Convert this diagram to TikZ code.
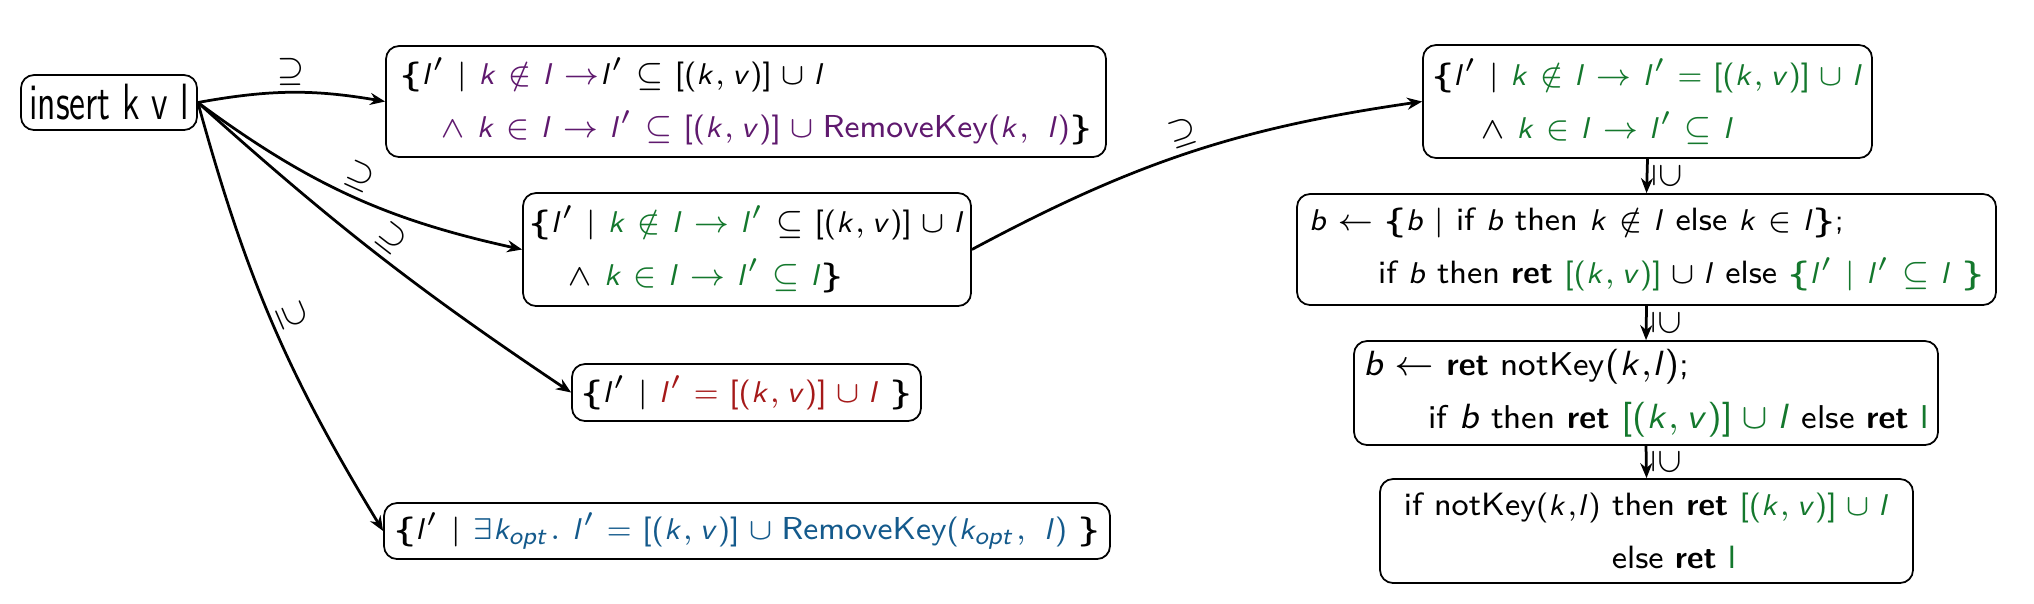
\documentclass[tikz,border=0pt]{standalone}
\usepackage{amsmath}
\usepackage{amssymb}
\usepackage{graphicx}
\usetikzlibrary{arrows.meta}
\DeclareSymbolFont{sfit}{OT1}{cmss}{m}{sl}
\DeclareSymbolFont{operators}{OT1}{cmss}{m}{n}
\SetSymbolFont{operators}{bold}{OT1}{cmss}{bx}{n}
\everymath{\fam\symsfit}
\definecolor{cpur}{RGB}{95,25,110}
\definecolor{cgrn}{RGB}{20,120,45}
\definecolor{cred}{RGB}{165,25,25}
\definecolor{cblu}{RGB}{20,90,140}
\newcommand{\lb}{\boldsymbol{\{}}
\newcommand{\rb}{\boldsymbol{\}}}
\tikzset{
  box/.style={draw, rounded corners=2.6pt, line width=0.35pt, inner sep=0pt,
    font=\sffamily\fontsize{6.35}{10.6}\selectfont},
  bigbox/.style={box, font=\sffamily\fontsize{6.6}{10.6}\selectfont},
  conn/.style={-{Stealth[length=3pt,width=2.4pt]}, line width=0.55pt},
  lab/.style={font=\fontsize{6}{6}\selectfont, sloped, above, inner sep=1.2pt},
  vlab/.style={font=\fontsize{6}{6}\selectfont, rotate=-90, anchor=south, inner sep=1pt},
}
\begin{document}
\begin{tikzpicture}[x=0.2pt,y=0.2pt]
\useasboundingbox (0,0) rectangle (2034,-603);
\node[box, minimum width=35.2pt, minimum height=11pt] (ins) at (109,-102.5)
  {\scalebox{0.7}[1]{\fontsize{10.2}{12}\selectfont insert k v l}};
\node[box, minimum width=144pt, minimum height=22.2pt, align=left] (A) at (746,-101.5)
  {$\lb l' \mid \textcolor{cpur}{k \notin l \rightarrow} l' \subseteq [(k,v)] \cup l$\\
   \hspace*{8pt}\textcolor{cpur}{$\wedge\ k \in l \rightarrow l' \subseteq [(k,v)] \cup \text{RemoveKey}(k,\ l)$}$\rb$};
\node[box, minimum width=89.6pt, minimum height=22.6pt, align=left] (B) at (747,-249.5)
  {$\lb l' \mid \textcolor{cgrn}{k \notin l \rightarrow l'} \subseteq [(k,v)] \cup l$\\
   \hspace*{7.6pt}$\wedge\ \textcolor{cgrn}{k \in l \rightarrow l' \subseteq l}\rb$};
\node[box, minimum width=69.8pt, minimum height=11.4pt] (C) at (746.5,-392.5)
  {$\lb l' \mid \textcolor{cred}{l' = [(k,v)] \cup l}\ \rb$};
\node[box, minimum width=145.2pt, minimum height=11.2pt] (D) at (747,-531)
  {$\lb l' \mid \textcolor{cblu}{\exists k_{opt}.\ l' = [(k,v)] \cup \text{RemoveKey}(k_{opt},\ l)}\ \rb$};
\node[box, minimum width=89.8pt, minimum height=22.6pt, align=left] (E) at (1647.5,-101.5)
  {$\lb l' \mid \textcolor{cgrn}{k \notin l \rightarrow l' = [(k,v)] \cup l}$\\
   \hspace*{9.6pt}$\wedge\ \textcolor{cgrn}{k \in l \rightarrow l' \subseteq l}$};
\node[box, minimum width=139.8pt, minimum height=22.2pt, align=left, font=\sffamily\fontsize{6.45}{10.6}\selectfont] (F) at (1646.5,-249.5)
  {$b \leftarrow \lb b \mid \text{if } b \text{ then } k \notin l \text{ else } k \in l\rb;$\\
   \hspace*{13.8pt}if $b$ then \textbf{ret} $\textcolor{cgrn}{[(k,v)]} \cup l$ else $\textcolor{cgrn}{\lb l' \mid l' \subseteq l\ \rb}$};
\node[bigbox, minimum width=116.8pt, minimum height=20.8pt, align=left] (G) at (1646,-393)
  {$b \leftarrow$ \textbf{ret} notKey$(k{,}l)$;\\
   \hspace*{13pt}if $b$ then \textbf{ret} \textcolor{cgrn}{$[(k,v)] \cup l$} else \textbf{ret} \textcolor{cgrn}{l}};
\node[box, minimum width=106.6pt, minimum height=20.8pt, align=center, font=\sffamily\fontsize{6.45}{10.6}\selectfont] (H) at (1646.5,-531)
  {if notKey$(k{,}l)$ then \textbf{ret} \textcolor{cgrn}{$[(k,v)] \cup l$}\\
   \hspace*{11pt}else \textbf{ret} \textcolor{cgrn}{l}};
\draw[conn] (ins.east) to[bend left=10] node[lab]{$\supseteq$} (A.west);
\draw[conn] (ins.east) to[bend right=12] node[lab]{$\supseteq$} (B.west);
\draw[conn] (ins.east) to[bend right=4] node[lab]{$\supseteq$} (C.west);
\draw[conn] (ins.east) to[bend right=8] node[lab]{$\supseteq$} (D.west);
\draw[conn] (B.east) to[bend left=10] node[lab]{$\supseteq$} (E.west);
\draw[conn] (E.south) -- node[vlab]{$\supseteq$} (F.north);
\draw[conn] (F.south) -- node[vlab]{$\supseteq$} (G.north);
\draw[conn] (G.south) -- node[vlab]{$\supseteq$} (H.north);
\end{tikzpicture}
\end{document}
